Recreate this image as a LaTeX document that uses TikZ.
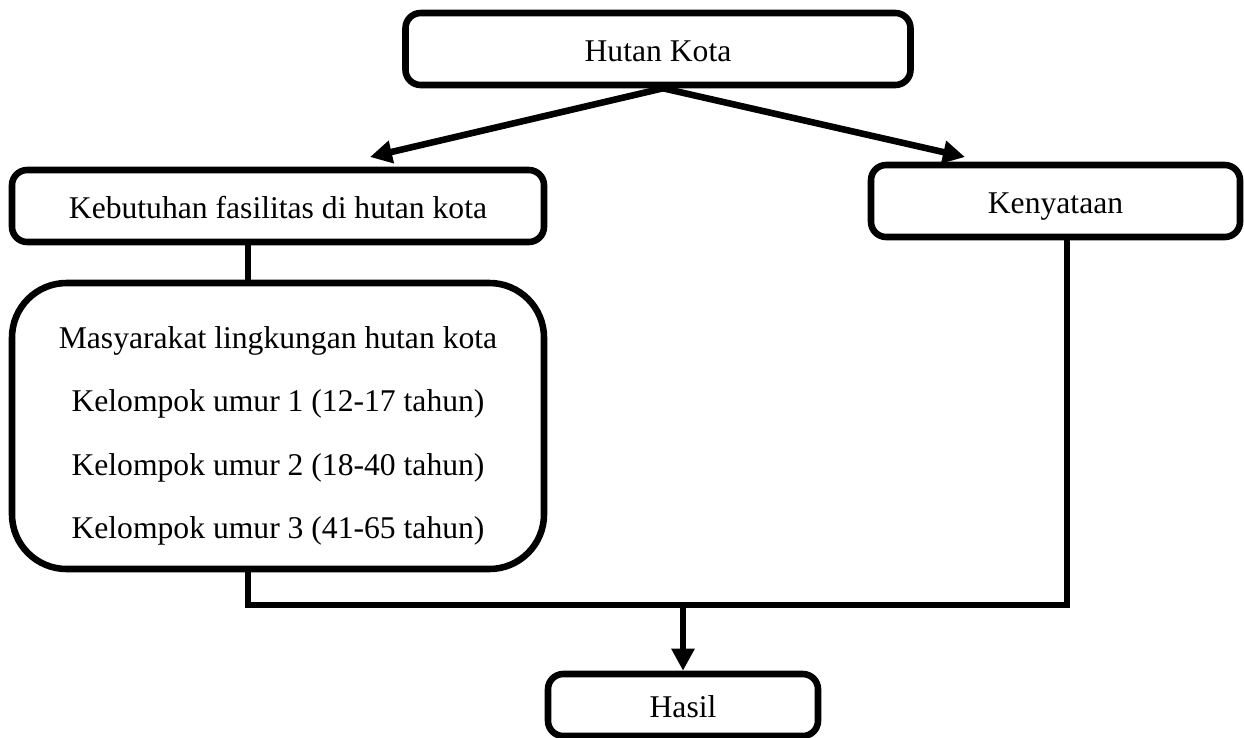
\documentclass[tikz,border=0pt]{standalone}
\usepackage{fontspec}
\setmainfont{Liberation Serif}
\usepackage{tikz}
\usetikzlibrary{arrows.meta, positioning, calc}

\begin{document}
\begin{tikzpicture}[
  x=0.015cm, y=-0.015cm,
  box/.style={draw, rounded corners=6.5pt, align=center,
              minimum height=1.08cm, inner sep=0pt,
              text height=1.27em, text depth=0.24em,
              font=\fontsize{13.5}{16}\selectfont},
  bigbox/.style={draw, rounded corners=0.82cm, align=center,
                 minimum width=7.98cm, minimum height=4.29cm,
                 inner sep=0pt, text height=99.2pt, text depth=3.2pt,
                 font=\fontsize{13.5}{27}\selectfont},
  >={Triangle[length=3.3mm, width=3.3mm]}, line width=2.8pt
]
\useasboundingbox (0,0) rectangle (1244,737);
\node[box, minimum width=7.575cm] (hutan) at (658,49) {Hutan Kota};
\node[box, minimum width=7.98cm]  (butuh) at (278,206)
    {Kebutuhan fasilitas di hutan kota};
\node[box, minimum width=5.535cm] (nyata) at (1055.5,201) {Kenyataan};
\node[bigbox] (masya) at (278,426)
    {Masyarakat lingkungan hutan kota\\
     Kelompok umur 1 (12-17 tahun)\\
     Kelompok umur 2 (18-40 tahun)\\
     Kelompok umur 3 (41-65 tahun)};
\node[box, minimum width=4.05cm, minimum height=0.93cm] (hasil)
    at (683,705) {Hasil};
% titik bantu garis
\coordinate (kiri)  at (370,157);
\coordinate (kanan) at (965,157);
\coordinate (busL)  at (248,605);
\coordinate (busR)  at (1067,605);
\draw[->] ($(hutan.south)+(5,0)$) -- (kiri);
\draw[->] ($(hutan.south)+(5,0)$) -- (kanan);
\draw (butuh.south -| busL) -- (masya.north -| busL);
\draw (masya.south -| busL) -- (busL) -- (busR) -- (nyata.south -| busR);
\draw[->] (busL -| hasil.north) -- (hasil.north);
\end{tikzpicture}
\end{document}
